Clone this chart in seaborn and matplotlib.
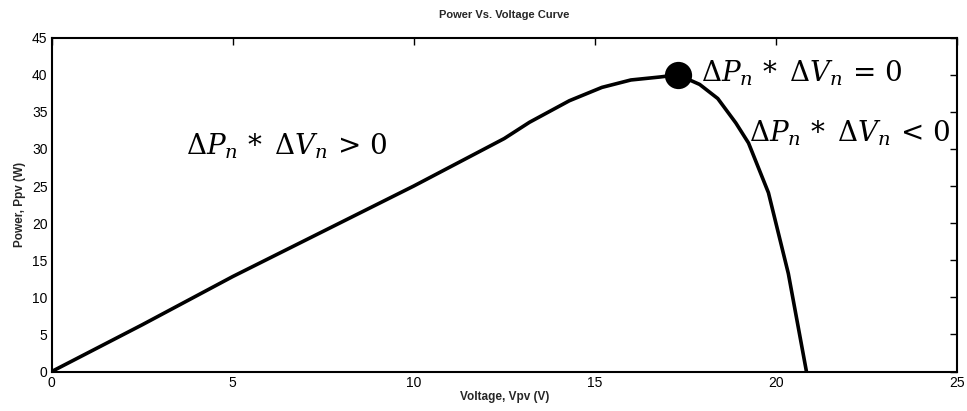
import matplotlib
matplotlib.use("Agg")
import matplotlib.pyplot as plt
import seaborn as sns
import pandas as pd

# Data
voltage = [0.0, 2.5, 5.0, 7.5, 10.0, 12.5, 13.2, 14.3, 15.2, 16.0, 16.8, 17.3,
           17.9, 18.4, 18.9, 19.25, 19.8, 20.35, 20.85]
power = [0.0, 6.3, 12.8, 18.9, 25.0, 31.4, 33.6, 36.5, 38.3, 39.3, 39.7, 40.0,
         38.7, 36.8, 33.5, 30.8, 24.1, 13.2, 0.0]
mpp_v = [17.3]
mpp_p = [40.0]

annotations = [
    (3.7, 29.3, r"$\Delta P_n\,*\;\Delta V_n\,>\,0$"),
    (17.95, 39.1, r"$\Delta P_n\,*\;\Delta V_n\,=\,0$"),
    (19.25, 31.0, r"$\Delta P_n\,*\;\Delta V_n\,<\,0$"),
]
x_ticks = [0, 5, 10, 15, 20, 25]
y_ticks = [0, 5, 10, 15, 20, 25, 30, 35, 40, 45]

sns.set_style("white")
plt.rcParams["font.family"] = ["Liberation Sans", "DejaVu Sans"]
plt.rcParams["mathtext.fontset"] = "dejavuserif"

df = pd.DataFrame({"Voltage": voltage, "Power": power})

fig = plt.figure(figsize=(9.67, 4.11), dpi=100)
ax = fig.add_axes([0.0535, 0.0961, 0.9358, 0.8122])

sns.lineplot(data=df, x="Voltage", y="Power", sort=False, color="black",
             linewidth=2.6, ax=ax)
sns.scatterplot(x=mpp_v, y=mpp_p, color="black", s=330, ax=ax, zorder=5,
                edgecolor="black")

for x, y, t in annotations:
    ax.text(x, y, t, fontsize=20, ha="left", va="baseline", color="black")

ax.set_xlim(0, 25)
ax.set_ylim(0, 45)
ax.set_xticks(x_ticks)
ax.set_yticks(y_ticks)
ax.tick_params(direction="in", length=5, width=1, top=True, right=True,
               labelsize=10, pad=3, colors="black")
for s in ax.spines.values():
    s.set_linewidth(1.5)
    s.set_color("black")

ax.set_title("Power Vs. Voltage Curve", fontsize=8, fontweight="bold", pad=14)
ax.set_xlabel("Voltage, Vpv (V)", fontsize=8.5, fontweight="bold", labelpad=1)
ax.set_ylabel("Power, Ppv (W)", fontsize=8.5, fontweight="bold", labelpad=4)

fig.savefig("out.png", dpi=100)
